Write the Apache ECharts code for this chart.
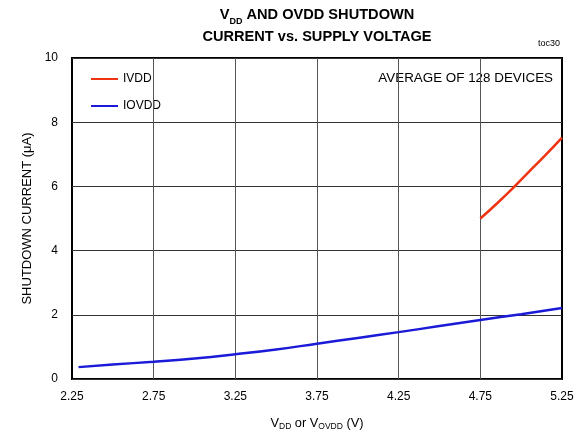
<!DOCTYPE html>
<html>
<head>
<meta charset="utf-8">
<script src="https://cdn.jsdelivr.net/npm/echarts@6/dist/echarts.min.js"></script>
<style>
html,body{margin:0;padding:0;background:#fff;}
#c{width:587px;height:434px;}
</style>
</head>
<body>
<div id="c"></div>
<script>
// ---- data ----
const ivddX = [4.75, 4.85, 4.95, 5.05, 5.15, 5.25];
const ivddY = [5.0, 5.46, 5.95, 6.47, 6.98, 7.52];
const iovddX = [2.29, 2.5, 2.75, 3.0, 3.25, 3.5, 3.75, 4.0, 4.25, 4.5, 4.75, 5.0, 5.25];
const iovddY = [0.37, 0.45, 0.54, 0.64, 0.77, 0.92, 1.1, 1.28, 1.46, 1.65, 1.84, 2.02, 2.21];
const xTicks = [2.25, 2.75, 3.25, 3.75, 4.25, 4.75, 5.25];
const yTicks = [0, 2, 4, 6, 8, 10];
const seriesNames = ['IVDD', 'IOVDD'];

const FONT = 'Liberation Sans, Arial, sans-serif';
const zip = (xs, ys) => xs.map((x, i) => [x, ys[i]]);
const innerX = xTicks.slice(1, -1);

const chart = echarts.init(document.getElementById('c'));
chart.setOption({
  animation: false,
  backgroundColor: '#fff',
  textStyle: { fontFamily: FONT, color: '#000' },
  title: {
    left: 312, top: -1, textAlign: 'center',
    text: '{b|V}{s|DD}{b| AND OVDD SHUTDOWN}\n{b|CURRENT vs. SUPPLY VOLTAGE}',
    textStyle: {
      fontFamily: FONT,
      rich: {
        b: { fontSize: 14.6, fontWeight: 'bold', color: '#000', lineHeight: 22, fontFamily: FONT },
        s: { fontSize: 9, fontWeight: 'bold', color: '#000', lineHeight: 12, fontFamily: FONT, verticalAlign: 'bottom' }
      }
    }
  },
  graphic: [
    { type: 'text', right: 27, top: 39, style: { text: 'toc30', fontSize: 9, fontFamily: FONT, fill: '#000' } },
    { type: 'text', right: 34, top: 72, style: { text: 'AVERAGE OF 128 DEVICES', fontSize: 13.4, fontFamily: FONT, fill: '#000' } }
  ],
  legend: {
    orient: 'vertical', left: 91, top: 73, padding: 0,
    itemWidth: 27, itemHeight: 2, itemGap: 15,
    icon: 'rect',
    data: seriesNames,
    textStyle: { fontSize: 12, fontFamily: FONT, color: '#000' }
  },
  grid: {
    left: 72, right: 25, top: 58, bottom: 55,
    outerBoundsMode: 'none',
    show: true, borderColor: '#000', borderWidth: 2, backgroundColor: 'transparent'
  },
  xAxis: {
    type: 'value', min: 2.25, max: 5.25, interval: 0.25,
    axisLine: { show: false },
    axisTick: { show: false },
    splitLine: { show: false },
    axisLabel: {
      fontSize: 12, color: '#000', fontFamily: FONT, margin: 12,
      formatter: v => xTicks.some(t => Math.abs(t - v) < 1e-6) ? v.toFixed(2) : ''
    },
    name: '{n|V}{s|DD}{n| or V}{s|OVDD}{n| (V)}',
    nameLocation: 'middle', nameGap: 36,
    nameTextStyle: {
      rich: {
        n: { fontSize: 12.8, color: '#000', fontFamily: FONT, lineHeight: 16 },
        s: { fontSize: 8.5, color: '#000', fontFamily: FONT, lineHeight: 10, verticalAlign: 'bottom' }
      }
    }
  },
  yAxis: {
    type: 'value', min: 0, max: 10, interval: 2,
    axisLine: { show: false },
    axisTick: { show: false },
    splitLine: { show: true, lineStyle: { color: '#333', width: 1 } },
    axisLabel: { fontSize: 12, color: '#000', fontFamily: FONT, margin: 14 },
    name: 'SHUTDOWN CURRENT (μA)',
    nameLocation: 'middle', nameGap: 35,
    nameTextStyle: { fontSize: 13, color: '#000', fontFamily: FONT }
  },
  series: [
    {
      name: seriesNames[0], type: 'line', data: zip(ivddX, ivddY),
      smooth: true, symbol: 'none', color: '#f03312',
      lineStyle: { width: 2.5, color: '#f03312' }, z: 5
    },
    {
      name: seriesNames[1], type: 'line', data: zip(iovddX, iovddY),
      smooth: true, symbol: 'none', color: '#1a1ad8',
      lineStyle: { width: 2.5, color: '#1a1ad8' }, z: 5,
      markLine: {
        silent: true, symbol: 'none', animation: false,
        label: { show: false },
        lineStyle: { color: '#555', width: 1, type: 'solid' },
        emphasis: { disabled: true },
        data: innerX.map(x => ({ xAxis: x }))
      }
    }
  ]
});
</script>
</body>
</html>
